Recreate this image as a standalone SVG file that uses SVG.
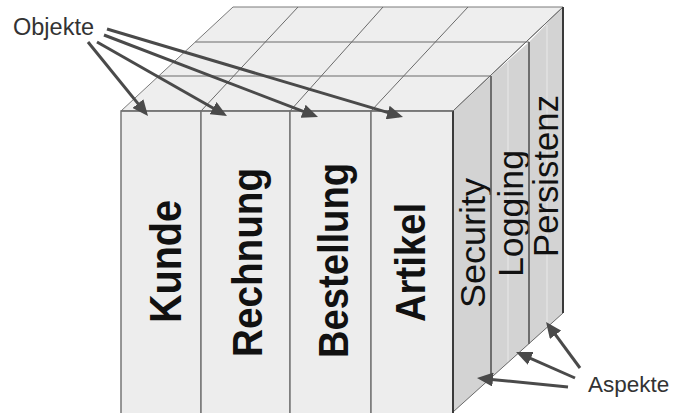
<svg xmlns="http://www.w3.org/2000/svg" width="673" height="413" viewBox="0 0 673 413">
<defs>
<style>
.front{fill:#ededed;stroke:#777;stroke-width:1.5}
.side{fill:#d3d3d3;stroke:none}
.top{fill:#eeeeee;stroke:#7a7a7a;stroke-width:1}
.grid{fill:none;stroke:#6a6a6a;stroke-width:1}
.edge{fill:none;stroke:#3a3a3a;stroke-width:2}
.sline{fill:none;stroke:#555;stroke-width:1.6}
.streak{fill:none;stroke:#dedede;stroke-width:2}
.obj{font-family:"Liberation Sans",Arial,sans-serif;font-weight:bold;fill:#111}
.asp{font-family:"Liberation Sans",Arial,sans-serif;font-size:35px;fill:#111}
.lbl{font-family:"Liberation Sans",Arial,sans-serif;fill:#333}
.arr{fill:none;stroke:#4a4a4a;stroke-width:3}
</style>
<marker id="ah" viewBox="0 0 16 14" refX="12" refY="7" markerWidth="16" markerHeight="14" markerUnits="userSpaceOnUse" orient="auto">
<path d="M0,0 L16,7 L0,14 z" fill="#4a4a4a"/>
</marker>
</defs>
<rect width="673" height="413" fill="#ffffff"/>

<g id="top-face">
<polygon class="top" points="121,111 233,7 563,7 453,111"/>
<line class="grid" x1="195.3" y1="42" x2="529" y2="42"/>
<line class="grid" x1="158.7" y1="76" x2="491" y2="76"/>
<line class="grid" x1="201" y1="111" x2="298" y2="7"/>
<line class="grid" x1="290" y1="111" x2="383" y2="7"/>
<line class="grid" x1="371" y1="111" x2="468" y2="7"/>
</g>

<g id="kunde">
<rect class="front" x="121" y="111" width="80" height="310"/>
<text class="obj" font-size="45" textLength="123" lengthAdjust="spacingAndGlyphs" transform="translate(181,323) rotate(-90)">Kunde</text>
</g>
<g id="rechnung">
<rect class="front" x="201" y="111" width="89" height="310"/>
<text class="obj" font-size="43" textLength="189" lengthAdjust="spacingAndGlyphs" transform="translate(262,357) rotate(-90)">Rechnung</text>
</g>
<g id="bestellung">
<rect class="front" x="290" y="111" width="81" height="310"/>
<text class="obj" font-size="43" textLength="195" lengthAdjust="spacingAndGlyphs" transform="translate(348,358) rotate(-90)">Bestellung</text>
</g>
<g id="artikel">
<rect class="front" x="371" y="111" width="82" height="310"/>
<text class="obj" font-size="42" textLength="119" lengthAdjust="spacingAndGlyphs" transform="translate(425,322) rotate(-90)">Artikel</text>
</g>

<g id="security">
<polygon class="side" points="453,111 491,76 491,378 453,412"/>
<text class="asp" textLength="130" lengthAdjust="spacingAndGlyphs" transform="translate(485,308) rotate(-90)">Security</text>
</g>
<g id="logging">
<polygon class="side" points="491,76 529,42 529,344 491,378"/>
<line class="streak" x1="508" y1="62" x2="508" y2="362"/>
<text class="asp" textLength="127" lengthAdjust="spacingAndGlyphs" transform="translate(523,277) rotate(-90)">Logging</text>
</g>
<g id="persistenz">
<polygon class="side" points="529,42 563,7 563,313 529,344"/>
<line class="streak" x1="547" y1="25" x2="547" y2="328"/>
<text class="asp" textLength="162" lengthAdjust="spacingAndGlyphs" transform="translate(558,257) rotate(-90)">Persistenz</text>
</g>

<g id="cube-edges">
<line class="sline" x1="491" y1="76" x2="491" y2="378"/>
<line class="sline" x1="529" y1="42" x2="529" y2="344"/>
<line class="grid" x1="453" y1="111" x2="563" y2="7"/>
<line class="edge" x1="563" y1="7" x2="563" y2="313"/>
<line class="grid" x1="563" y1="313" x2="453" y2="412"/>
<line class="edge" x1="453" y1="111" x2="453" y2="413"/>
<line class="grid" x1="121" y1="111" x2="453" y2="111"/>
</g>

<g id="objekte-label">
<text class="lbl" font-size="23.5" x="13" y="35">Objekte</text>
</g>
<g id="aspekte-label">
<text class="lbl" font-size="22.5" x="588" y="392">Aspekte</text>
</g>

<g id="connectors">
<line class="arr" marker-end="url(#ah)" x1="88" y1="42" x2="145.5" y2="112.9"/>
<line class="arr" marker-end="url(#ah)" x1="97" y1="42" x2="223.5" y2="114"/>
<line class="arr" marker-end="url(#ah)" x1="104" y1="35" x2="314.3" y2="115.6"/>
<line class="arr" marker-end="url(#ah)" x1="107" y1="29" x2="399.2" y2="115.9"/>
<line class="arr" marker-end="url(#ah)" x1="568" y1="387" x2="481" y2="378.4"/>
<line class="arr" marker-end="url(#ah)" x1="575" y1="378" x2="519.7" y2="353.6"/>
<line class="arr" marker-end="url(#ah)" x1="580" y1="368" x2="548.4" y2="325.2"/>
</g>
</svg>
